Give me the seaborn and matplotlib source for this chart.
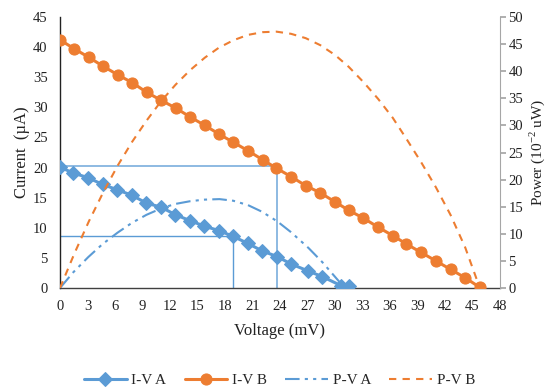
import numpy as np
import pandas as pd
import matplotlib
matplotlib.use("Agg")
import matplotlib.pyplot as plt
import seaborn as sns

# ---- data ----
v_a = [0, 1.45, 3.08, 4.64, 6.27, 7.83, 9.43, 11.06, 12.55, 14.15, 15.7,
       17.4, 18.9, 20.5, 22.0, 23.7, 25.2, 27.1, 28.6, 30.65, 31.55]
i_a = [20.05, 19.1, 18.3, 17.2, 16.3, 15.4, 14.1, 13.4, 12.2, 11.2, 10.3,
       9.5, 8.56, 7.4, 6.2, 5.2, 4.0, 2.8, 1.9, 0.4, 0.4]
p_a = [0, 2.9, 5.7, 8.1, 10.2, 12.0, 13.5, 14.7, 15.5, 16.0, 16.3,
       16.4, 16.1, 15.3, 14.1, 12.3, 10.3, 7.4, 4.8, 0.8, np.nan]

v_b = [0, 1.58, 3.15, 4.73, 6.3, 7.88, 9.45, 11.0, 12.6, 14.2, 15.8, 17.3,
       18.9, 20.5, 22.1, 23.6, 25.2, 26.8, 28.4, 30.0, 31.5, 33.1, 34.7,
       36.3, 37.8, 39.4, 41.0, 42.6, 44.2, 45.8]
i_b = [41.2, 39.7, 38.3, 36.8, 35.4, 34.1, 32.5, 31.2, 29.9, 28.4, 27.0, 25.6,
       24.2, 22.8, 21.3, 19.9, 18.5, 17.0, 15.8, 14.3, 12.9, 11.6, 10.1,
       8.7, 7.3, 5.9, 4.5, 3.1, 1.7, 0.1]
p_b = [0, 6.4, 12.3, 17.7, 22.6, 27.0, 30.9, 34.4, 37.5, 40.2, 42.5, 44.3,
       45.7, 46.7, 47.2, 47.3, 46.9, 46.1, 44.8, 43.0, 40.8, 38.0, 34.9,
       31.4, 27.5, 23.2, 18.6, 13.5, 7.5, 0]

# max power point guide lines (voltage, current)
mpp_v = [18.9, 23.7]
mpp_i = [8.6, 20.2]

x_ticks = list(range(0, 49, 3))
y_left_ticks = list(range(0, 46, 5))
y_right_ticks = list(range(0, 51, 5))

BLUE = "#5B9BD5"
ORANGE = "#ED7D31"

sns.set_theme(style="white")
plt.rcParams["font.family"] = ["Liberation Serif", "DejaVu Serif"]

df_a = pd.DataFrame({"V": v_a, "I": i_a, "P": p_a})
df_b = pd.DataFrame({"V": v_b, "I": i_b, "P": p_b})

fig = plt.figure(figsize=(5.48, 3.89), dpi=100)
ax = fig.add_axes([60 / 548, 1 - 288 / 389, 440 / 548, 271 / 389])
ax2 = ax.twinx()

# guide lines
guide_colors = ["#5B9BD5", "#8DBAE2"]
guide_widths = [1.0, 1.4]
for v, i, c, w in zip(mpp_v, mpp_i, guide_colors, guide_widths):
    ax.plot([0, v, v], [i, i, 0], color=c, lw=w, zorder=1)

sns.lineplot(data=df_a, x="V", y="I", ax=ax, color=BLUE, lw=2.2, marker="D",
             markersize=7.5, markeredgecolor=BLUE, sort=False, zorder=3,
             label="I-V A", legend=False)
sns.lineplot(data=df_b, x="V", y="I", ax=ax, color=ORANGE, lw=2.2, marker="o",
             markersize=8, markeredgecolor=ORANGE, sort=False, zorder=3,
             label="I-V B", legend=False)

sns.lineplot(data=df_a, x="V", y="P", ax=ax2, color=BLUE, lw=1.5,
             sort=False, label="P-V A", legend=False)
ax2.lines[-1].set_dashes([7, 2.5, 1.5, 2.5, 1.5, 2.5])
sns.lineplot(data=df_b, x="V", y="P", ax=ax2, color=ORANGE, lw=1.5,
             sort=False, label="P-V B", legend=False)
ax2.lines[-1].set_dashes([3.5, 3])

ax.set_xlim(0, 48)
ax.set_ylim(0, 45)
ax2.set_ylim(0, 50)
ax.set_xticks(x_ticks)
ax.set_yticks(y_left_ticks)
ax2.set_yticks(y_right_ticks)

ax.tick_params(axis="x", length=0, labelsize=10.5, colors="#222222", pad=9)
ax.tick_params(axis="y", length=0, labelsize=10.5, colors="#222222", pad=9)
ax2.tick_params(axis="y", length=4, direction="out", color="#A6A6A6",
                labelsize=10.5, labelcolor="#222222", pad=2)

ax.spines["top"].set_visible(False)
ax2.spines["top"].set_visible(False)
ax.spines["right"].set_visible(False)
ax.spines["left"].set_color("#222222")
ax.spines["bottom"].set_color("#404040")
ax.spines["left"].set_linewidth(1.0)
ax.spines["bottom"].set_linewidth(1.0)
ax2.spines["left"].set_visible(False)
ax2.spines["bottom"].set_visible(False)
ax2.spines["right"].set_color("#A6A6A6")
ax2.spines["right"].set_linewidth(0.8)

ax.set_xlabel("Voltage (mV)", fontsize=12, color="#222222", labelpad=7)
ax.set_ylabel("Current  (\u00b5A)", fontsize=12, color="#222222", labelpad=2)
ax2.set_ylabel("Power (10$^{\\mathregular{-2}}$ uW)", fontsize=11,
               color="#222222")
ax2.yaxis.set_label_coords((527 - 60) / 440, 0.5)
ax.grid(False)
ax2.grid(False)

h1, l1 = ax.get_legend_handles_labels()
h2, l2 = ax2.get_legend_handles_labels()
handles = [h for h, l in zip(h1, l1) if l in ("I-V A", "I-V B")] + h2
labels = [l for l in l1 if l in ("I-V A", "I-V B")] + l2
fig.legend(handles, labels, loc="center", bbox_to_anchor=(0.51, 1 - 380 / 389),
           ncol=4, frameon=False, fontsize=11, handlelength=2.8,
           handletextpad=0.3, columnspacing=1.2)

fig.savefig("out.png", dpi=100)
